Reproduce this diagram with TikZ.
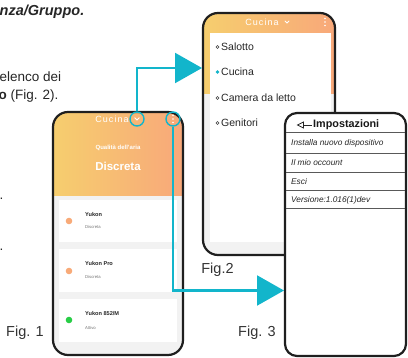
\documentclass[tikz,border=0pt]{standalone}
\usepackage{fontspec}
\setmainfont{Liberation Sans}
\usetikzlibrary{arrows.meta,shapes.geometric}
\definecolor{conncol}{RGB}{18,181,203}
\definecolor{hdry}{RGB}{246,206,110}
\definecolor{hdro}{RGB}{248,168,122}
\definecolor{bggray}{RGB}{242,242,242}
\definecolor{dotor}{RGB}{248,170,120}
\definecolor{dotgr}{RGB}{40,205,70}
\tikzset{
  phone/.style={draw=black!88, line width=2.2pt, rounded corners=15pt, inner sep=0pt, outer sep=0pt},
  conn/.style={draw=conncol, line width=2.2pt, -{Triangle[length=27pt,width=30pt]}},
  hilite/.style={circle, draw=conncol, line width=1.4pt, minimum size=14pt, inner sep=0pt},
  capt/.style={font=\fontsize{14.5}{16}\selectfont, text=black!80, inner sep=0pt},
  body/.style={font=\fontsize{13.5}{15}\selectfont, text=black!85, inner sep=0pt},
  cardname/.style={anchor=west, inner sep=0pt, font=\bfseries\fontsize{5.6}{6}\selectfont, text=black!85},
  cardsub/.style={anchor=west, inner sep=0pt, font=\fontsize{4.2}{5}\selectfont, text=black!55},
  menu/.style={anchor=west, inner sep=0pt, font=\fontsize{10.5}{12}\selectfont, text=black!85},
  setitem/.style={anchor=west, inner sep=0pt, font=\itshape\fontsize{8.3}{10}\selectfont, text=black!85},
  sepline/.style={draw=black!65, line width=0.7pt},
  hdrtxt/.style={text=white, inner sep=0pt, font=\fontsize{9}{10}\selectfont\addfontfeatures{LetterSpace=12}},
}
\begin{document}
\begin{tikzpicture}[x=1pt,y=-1pt]
\useasboundingbox (0,0) rectangle (408,358);

% ---- text at the left
\node[anchor=west, inner sep=0pt, font=\bfseries\itshape\fontsize{14.5}{16}\selectfont, text=black!85] (t0) at (-0.5,12) {nza/Gruppo.};
\node[body, anchor=west] (t1) at (-0.5,77) {elenco dei};
\node[body, anchor=west] (t2) at (-1.5,96) {\textbf{o} (Fig. 2).};
\node[body, anchor=base west] (t3) at (-0.5,199.5) {.};
\node[body, anchor=base west] (t4) at (-0.5,250.5) {.};

% ---- Fig. 1
\begin{scope}
\clip[rounded corners=15pt] (53,112) rectangle (183,355);
\shade[left color=hdry, right color=hdro] (53,112) rectangle (183,196);
\fill[bggray] (53,196) rectangle (183,355);
\fill[white] (59,200) rectangle (177,242);
\fill[white] (59,249) rectangle (177,292);
\fill[white] (59,299) rectangle (177,342);
\end{scope}
\node[phone, minimum width=130pt, minimum height=243pt] (fig1) at (118,233.5) {};
\node[hdrtxt] (cuc1) at (112,119) {Cucina};
\draw[white, line width=0.8pt] (134.6,117.6) -- (137,120) -- (139.4,117.6);
\foreach \yy in {115.5,119,122.5} \fill[white] (173,\yy) circle (0.9pt);
\node[hilite] (chev1) at (137,119) {};
\node[hilite] (dots1) at (173,119) {};
\node[text=white, inner sep=0pt, font=\bfseries\fontsize{6}{7}\selectfont] (qa) at (118,148) {Qualità dell'aria};
\node[text=white, inner sep=0pt, font=\bfseries\fontsize{11.5}{13}\selectfont] (disc) at (118,166) {Discreta};
\fill[dotor] (69,221) circle (3.3pt);
\node[cardname] (n1) at (85,215) {Yukon};
\node[cardsub] (s1) at (85,227) {Discreta};
\fill[dotor] (69,271) circle (3.3pt);
\node[cardname] (n2) at (85,264) {Yukon Pro};
\node[cardsub] (s2) at (85,277) {Discreta};
\fill[dotgr] (69,320) circle (3.3pt);
\node[cardname] (n3) at (85,314) {Yukon 852/M};
\node[cardsub] (s3) at (85,328) {Attivo};

% ---- Fig. 2
\begin{scope}
\clip[rounded corners=15pt] (203,13) rectangle (335,255);
\shade[left color=hdry, right color=hdro] (203,13) rectangle (335,94);
\fill[bggray] (203,94) rectangle (335,255);
\fill[white] (210,33) rectangle (331,242);
\end{scope}
\node[phone, minimum width=132pt, minimum height=242pt] (fig2) at (269,134) {};
\node[hdrtxt] (cuc2) at (262,22) {Cucina};
\draw[white, line width=0.8pt] (284.8,20.8) -- (287,23) -- (289.2,20.8);
\foreach \yy in {18.5,22,25.5} \fill[white] (325,\yy) circle (0.9pt);
\draw[black!75, line width=0.6pt] (217.5,47) circle (1.5pt);
\node[menu] (m1) at (221,47) {Salotto};
\fill[conncol] (217.5,72) circle (1.8pt);
\node[menu] (m2) at (221,72) {Cucina};
\draw[black!75, line width=0.6pt] (217.5,98) circle (1.5pt);
\node[menu] (m3) at (221,98) {Camera da letto};
\draw[black!75, line width=0.6pt] (217.5,123) circle (1.5pt);
\node[menu] (m4) at (221,123) {Genitori};

% ---- Fig. 3
\node[phone, fill=white, rounded corners=12pt, minimum width=121pt, minimum height=243pt] (fig3) at (345.5,234.5) {};
\draw[black!85, line width=0.8pt] (303.5,122) -- (297.5,125) -- (303.5,128) -- cycle;
\draw[black!85, line width=0.8pt] (303.5,125) -- (312,125);
\node[anchor=west, inner sep=0pt, font=\bfseries\fontsize{10.8}{12}\selectfont, text=black!90] (imp) at (313,125) {Impostazioni};
\foreach \yy in {132,153,172,190,208} \draw[sepline] (286,\yy) -- (405,\yy);
\node[setitem] (i1) at (291,143) {Installa nuovo dispositivo};
\node[setitem] (i2) at (291,163) {Il mio occount};
\node[setitem] (i3) at (291,182) {Esci};
\node[setitem] (i4) at (291,200) {Versione:1.016(1)dev};

% ---- captions
\node[capt] (f1) at (25,333) {Fig. 1};
\node[capt] (f2) at (217.5,269.5) {Fig.2};
\node[capt] (f3) at (257,333) {Fig. 3};

% ---- connectors
\coordinate (a1) at (202,68);
\coordinate (a2) at (284,290.5);
\draw[conn] (chev1.north) |- (a1);
\draw[conn] (dots1.south) |- (a2);
\end{tikzpicture}
\end{document}
